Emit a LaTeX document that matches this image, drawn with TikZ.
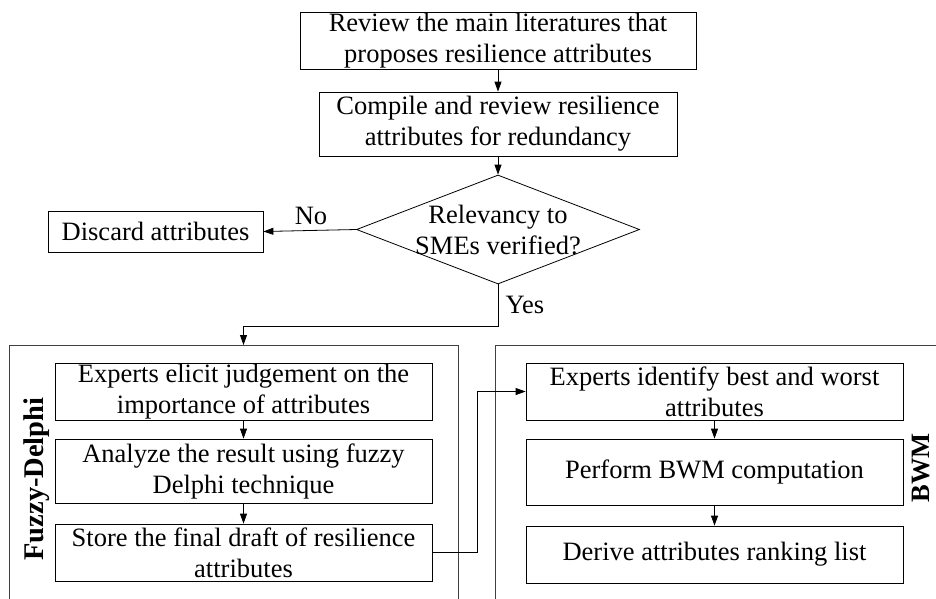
\documentclass[tikz,border=0pt]{standalone}
\usepackage{fontspec}
\setmainfont{Liberation Serif}
\usetikzlibrary{shapes.geometric,arrows.meta,positioning,calc}

\newcommand{\flowfont}{\fontsize{26.5}{31}\selectfont}

\begin{document}
\begin{tikzpicture}[x=1pt, y=-1pt,
    box/.style={draw, line width=0.8pt, align=center, inner sep=0pt, font=\flowfont},
    decision/.style={draw, diamond, line width=0.8pt, inner sep=0pt},
    group/.style={draw, line width=0.8pt, black!75, inner sep=0pt, anchor=north west},
    grouplabel/.style={rotate=90, inner sep=0pt, font=\flowfont\bfseries},
    flow/.style={line width=0.8pt, -{Triangle[length=10pt, width=7pt]}}]

        % Frame
        \useasboundingbox (0,0) rectangle (936,598);
        \clip (0,0) rectangle (936,598);

        % Method groups (open towards the page edge)
        \node[group, minimum width=449pt, minimum height=275pt] (fuzzy) at (9,345) {};
        \node[group, minimum width=470pt, minimum height=275pt] (bwm) at (495,345) {};
        \node[grouplabel, font=\fontsize{28.5}{31}\selectfont\bfseries] (fuzzylabel) at (37,479) {Fuzzy-Delphi};
        \node[grouplabel] (bwmlabel) at (921,468) {BWM};

        % Screening steps
        \node[box, minimum width=396pt, minimum height=57pt] (review) at (498,40.5)
            {Review the main literatures that\\proposes resilience attributes};
        \node[box, minimum width=358pt, minimum height=64pt] (compile) at (498,124)
            {Compile and review resilience\\attributes for redundancy};
        \node[decision, minimum width=283pt, minimum height=109pt] (check) at (498,229.5) {};
        \node[align=center, inner sep=0pt, font=\flowfont] (checktext) at (check) {Relevancy to\\SMEs verified?};
        \node[box, minimum width=215pt, minimum height=41pt] (discard) at (155.5,231.5) {Discard attributes};

        % Fuzzy-Delphi steps
        \node[box, minimum width=377pt, minimum height=57pt] (f1) at (243.5,391.5)
            {Experts elicit judgement on the\\importance of attributes};
        \node[box, minimum width=377pt, minimum height=64pt] (f2) at (243.5,471)
            {Analyze the result using fuzzy\\Delphi technique};
        \node[box, minimum width=377pt, minimum height=57pt] (f3) at (243.5,552.5)
            {Store the final draft of resilience\\attributes};

        % BWM steps
        \node[box, minimum width=377pt, minimum height=57pt] (b1) at (714.5,391.5)
            {Experts identify best and worst\\attributes};
        \node[box, minimum width=377pt, minimum height=66pt] (b2) at (714.5,472)
            {Perform BWM computation};
        \node[box, minimum width=377pt, minimum height=57pt] (b3) at (714.5,554.5)
            {Derive attributes ranking list};

        % Branch labels
        \node[font=\flowfont, inner sep=0pt] (no) at (311,216) {No};
        \node[font=\flowfont, inner sep=0pt] (yes) at (525,305) {Yes};

        % Connectors
        \coordinate (yesbend) at (498,326);
        \coordinate (gap) at (477,391.5);
        \draw[flow] (review) -- (compile);
        \draw[flow] (compile) -- (check);
        \draw[flow] (check.west) -- (discard.east);
        \draw[flow] (check.south) -- (yesbend) -| (fuzzy.north -| f1.north);
        \draw[flow] (f1) -- (f2);
        \draw[flow] (f2) -- (f3);
        \draw[flow] (f3.east) -| (gap) -- (b1.west);
        \draw[flow] (b1) -- (b2);
        \draw[flow] (b2) -- (b3);
\end{tikzpicture}
\end{document}
